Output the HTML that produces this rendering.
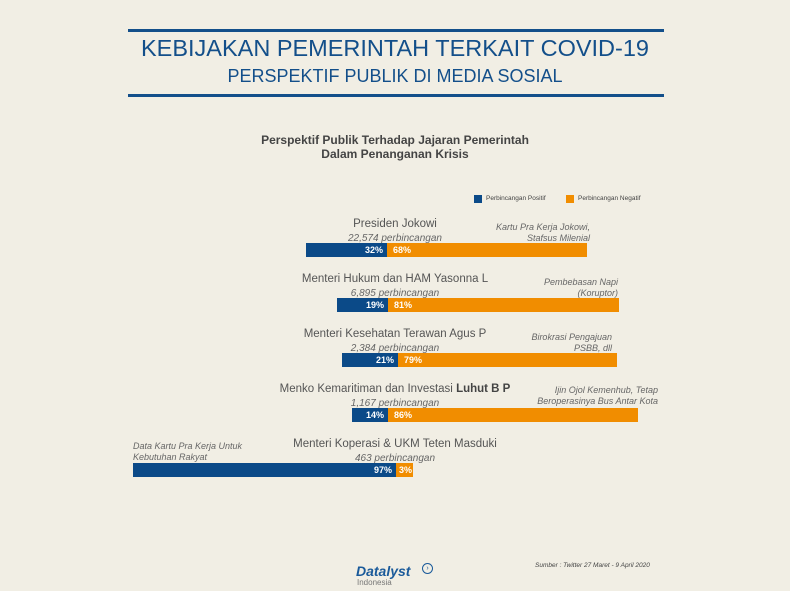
<!DOCTYPE html>
<html><head><meta charset="utf-8"><style>
body{margin:0;width:790px;height:591px;background:#f1eee4;font-family:"Liberation Sans",sans-serif;position:relative;overflow:hidden}
.a{position:absolute;white-space:nowrap}
.hl{position:absolute;left:128px;width:536px;height:3px;background:#134f8a}
.t1{left:0;width:790px;text-align:center;color:#134f8a}
.bar{position:absolute;height:14px}
.b{background:#0b4a88}.o{background:#f18d00}
.p{position:absolute;top:2px;font-size:9px;font-weight:bold;color:#fff}
.n{font-size:11.5px;color:#555;text-align:center}
.c{font-size:10px;color:#666;font-style:italic;text-align:center}
.note{font-size:9px;color:#666;font-style:italic;text-align:right;line-height:11px}
</style></head><body>
<div class="hl" style="top:29px"></div>
<div class="hl" style="top:94px"></div>
<div class="a t1" style="top:35px;font-size:23.5px">KEBIJAKAN PEMERINTAH TERKAIT COVID-19</div>
<div class="a t1" style="top:66px;font-size:18px">PERSPEKTIF PUBLIK DI MEDIA SOSIAL</div>
<div class="a" style="left:0;width:790px;text-align:center;top:133px;font-size:12px;font-weight:bold;color:#444;line-height:14px">Perspektif Publik Terhadap Jajaran Pemerintah<br>Dalam Penanganan Krisis</div>
<div class="a b" style="left:474px;top:195px;width:8px;height:8px"></div>
<div class="a" style="left:486px;top:195px;font-size:6.5px;color:#444">Perbincangan Positif</div>
<div class="a o" style="left:566px;top:195px;width:8px;height:8px"></div>
<div class="a" style="left:578px;top:195px;font-size:6.5px;color:#444">Perbincangan Negatif</div>

<div class="a n" style="left:295px;width:200px;top:218px">Presiden Jokowi</div>
<div class="a c" style="left:295px;width:200px;top:233px">22,574 perbincangan</div>
<div class="a note" style="left:440px;width:150px;top:222px">Kartu Pra Kerja Jokowi,<br>Stafsus Milenial</div>
<div class="bar b" style="left:306px;width:81px;top:243px"><span class="p" style="right:4px">32%</span></div>
<div class="bar o" style="left:387px;width:200px;top:243px"><span class="p" style="left:6px">68%</span></div>

<div class="a n" style="left:280px;width:230px;top:273px">Menteri Hukum dan HAM Yasonna L</div>
<div class="a c" style="left:295px;width:200px;top:288px">6,895 perbincangan</div>
<div class="a note" style="left:470px;width:148px;top:277px">Pembebasan Napi<br>(Koruptor)</div>
<div class="bar b" style="left:337px;width:51px;top:298px"><span class="p" style="right:4px">19%</span></div>
<div class="bar o" style="left:388px;width:231px;top:298px"><span class="p" style="left:6px">81%</span></div>

<div class="a n" style="left:280px;width:230px;top:328px">Menteri Kesehatan Terawan Agus P</div>
<div class="a c" style="left:295px;width:200px;top:343px">2,384 perbincangan</div>
<div class="a note" style="left:470px;width:142px;top:332px">Birokrasi Pengajuan<br>PSBB, dll</div>
<div class="bar b" style="left:342px;width:56px;top:353px"><span class="p" style="right:4px">21%</span></div>
<div class="bar o" style="left:398px;width:219px;top:353px"><span class="p" style="left:6px">79%</span></div>

<div class="a n" style="left:265px;width:260px;top:383px">Menko Kemaritiman dan Investasi <b style="color:#444">Luhut B P</b></div>
<div class="a c" style="left:295px;width:200px;top:398px">1,167 perbincangan</div>
<div class="a note" style="left:460px;width:198px;top:385px">Ijin Ojol Kemenhub, Tetap<br>Beroperasinya Bus Antar Kota</div>
<div class="bar b" style="left:352px;width:36px;top:408px"><span class="p" style="right:4px">14%</span></div>
<div class="bar o" style="left:388px;width:250px;top:408px"><span class="p" style="left:6px">86%</span></div>

<div class="a n" style="left:280px;width:230px;top:438px">Menteri Koperasi &amp; UKM Teten Masduki</div>
<div class="a c" style="left:295px;width:200px;top:453px">463 perbincangan</div>
<div class="a note" style="left:133px;text-align:left;top:441px">Data Kartu Pra Kerja Untuk<br>Kebutuhan Rakyat</div>
<div class="bar b" style="left:133px;width:263px;top:463px"><span class="p" style="right:4px">97%</span></div>
<div class="bar o" style="left:396px;width:17px;top:463px"><span class="p" style="left:3px">3%</span></div>

<div class="a" style="left:535px;top:562px;font-size:6.5px;font-style:italic;color:#444">Sumber : Twitter 27 Maret - 9 April 2020</div>
<div class="a" style="left:356px;top:563px;font-size:14px;font-weight:bold;font-style:italic;color:#1a5a9a">Datalyst</div>
<div class="a" style="left:422px;top:563px;width:9px;height:9px;border:1px solid #1a5a9a;border-radius:50%;font-size:7px;line-height:9px;text-align:center;color:#1a5a9a">›</div>
<div class="a" style="left:357px;top:578px;font-size:8px;color:#777">Indonesia</div>
</body></html>
